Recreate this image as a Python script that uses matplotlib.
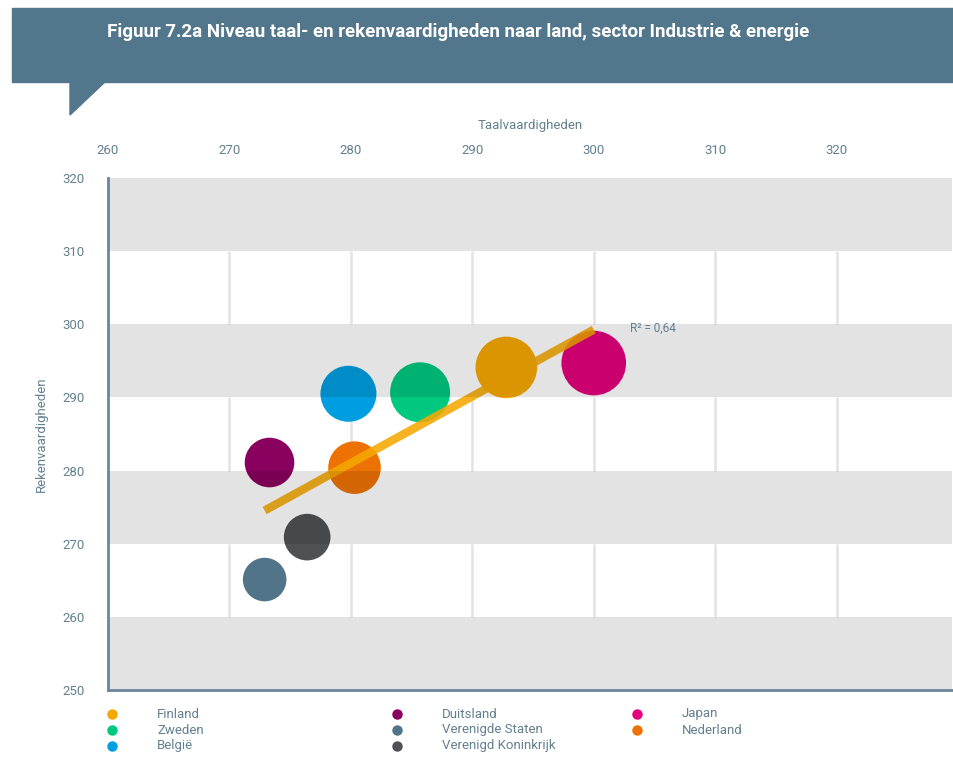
import matplotlib
matplotlib.use('Agg')
import matplotlib.pyplot as plt
from matplotlib.patches import Rectangle, Polygon
from matplotlib.lines import Line2D
import numpy as np

plt.rcParams['font.family'] = ['Roboto', 'DejaVu Sans']

# data
countries = ['Finland', 'Zweden', 'België', 'Duitsland', 'Verenigde Staten',
             'Verenigd Koninkrijk', 'Japan', 'Nederland']
taal = [292.8, 285.7, 279.8, 273.3, 272.9, 276.4, 300.0, 280.3]
reken = [294.1, 290.7, 290.5, 281.1, 265.1, 270.9, 294.7, 280.4]
bubble = [30.8, 30.0, 28.0, 24.8, 21.8, 23.3, 32.3, 26.3]
colors = ['#f5a800', '#00c97f', '#009ee0', '#8a005f', '#527489',
          '#505153', '#e5007d', '#ee7203']
x_ticks = [260, 270, 280, 290, 300, 310, 320]
y_ticks = [250, 260, 270, 280, 290, 300, 310, 320]
r2_label = 'R² = 0,64'
title = 'Figuur 7.2a Niveau taal- en rekenvaardigheden naar land, sector Industrie & energie'

txt = '#62808f'
W, H = 954, 778

fig = plt.figure(figsize=(W / 100, H / 100), dpi=100)

# title banner with speech-bubble tail
fig.patches.append(Rectangle((12 / W, 1 - 82 / H), (W - 12) / W, 74 / H,
                             transform=fig.transFigure, color='#52768b', zorder=0))
fig.patches.append(Polygon([(70 / W, 1 - 81 / H), (106 / W, 1 - 81 / H), (70 / W, 1 - 115 / H)],
                           closed=True, transform=fig.transFigure, color='#52768b', zorder=0))
fig.text(107 / W, 1 - 32 / H, title, color='white', fontsize=13.5, fontweight='bold',
         va='center', ha='left')

ax = fig.add_axes([108 / W, 1 - 690 / H, 844 / W, 512 / H])
ax.set_xlim(260, 329.5)
ax.set_ylim(250, 320)

# vertical grid only shows in the white bands
for lo in y_ticks[1::2][:-1]:
    ax.vlines(x_ticks[1:], lo, lo + 10, color='#e3e3e3', lw=1.8, zorder=1)

# regression line
fit = np.polyfit(taal, reken, 1)
xs = np.array([min(taal), max(taal)])
ax.plot(xs, np.polyval(fit, xs), color='#f5a800', lw=6, solid_capstyle='butt',
        zorder=4, alpha=0.88)

ax.scatter(taal, reken, s=(np.array(bubble) * 1.44) ** 2, c=colors,
           edgecolors='none', zorder=3)

# gray bands (darken everything underneath, like a multiply)
for lo in y_ticks[::2]:
    ax.axhspan(lo, lo + 10, color='black', alpha=0.11, lw=0, zorder=5)

ax.text(303, 299.4, r2_label, color=txt, fontsize=8.5, va='center', ha='left', zorder=6)

ax.set_xticks(x_ticks)
ax.set_yticks(y_ticks)
ax.xaxis.tick_top()
ax.xaxis.set_label_position('top')
ax.tick_params(axis='x', length=0, pad=15, labelsize=9.5, labelcolor=txt)
ax.tick_params(axis='y', length=0, pad=17, labelsize=9.5, labelcolor=txt)
ax.set_xlabel('Taalvaardigheden', color=txt, fontsize=9.5, labelpad=11)
ax.set_ylabel('Rekenvaardigheden', color=txt, fontsize=9.5, labelpad=10)

for side in ['top', 'right']:
    ax.spines[side].set_visible(False)
for side in ['left', 'bottom']:
    ax.spines[side].set_color('#6a8599')
    ax.spines[side].set_linewidth(2)
    ax.spines[side].set_zorder(7)

# legend, three columns
col_x = [112, 397, 637]
row_y = [714, 730, 746]
for i, (name, col) in enumerate(zip(countries, colors)):
    cx = col_x[i // 3]
    cy = row_y[i % 3]
    fig.add_artist(Line2D([cx / W], [1 - cy / H], marker='o', markersize=6.5, color=col,
                          lw=0, transform=fig.transFigure))
    fig.text((cx + 45) / W, 1 - cy / H, name, color=txt, fontsize=9.5, va='center', ha='left')

fig.savefig('out.png', dpi=100)
